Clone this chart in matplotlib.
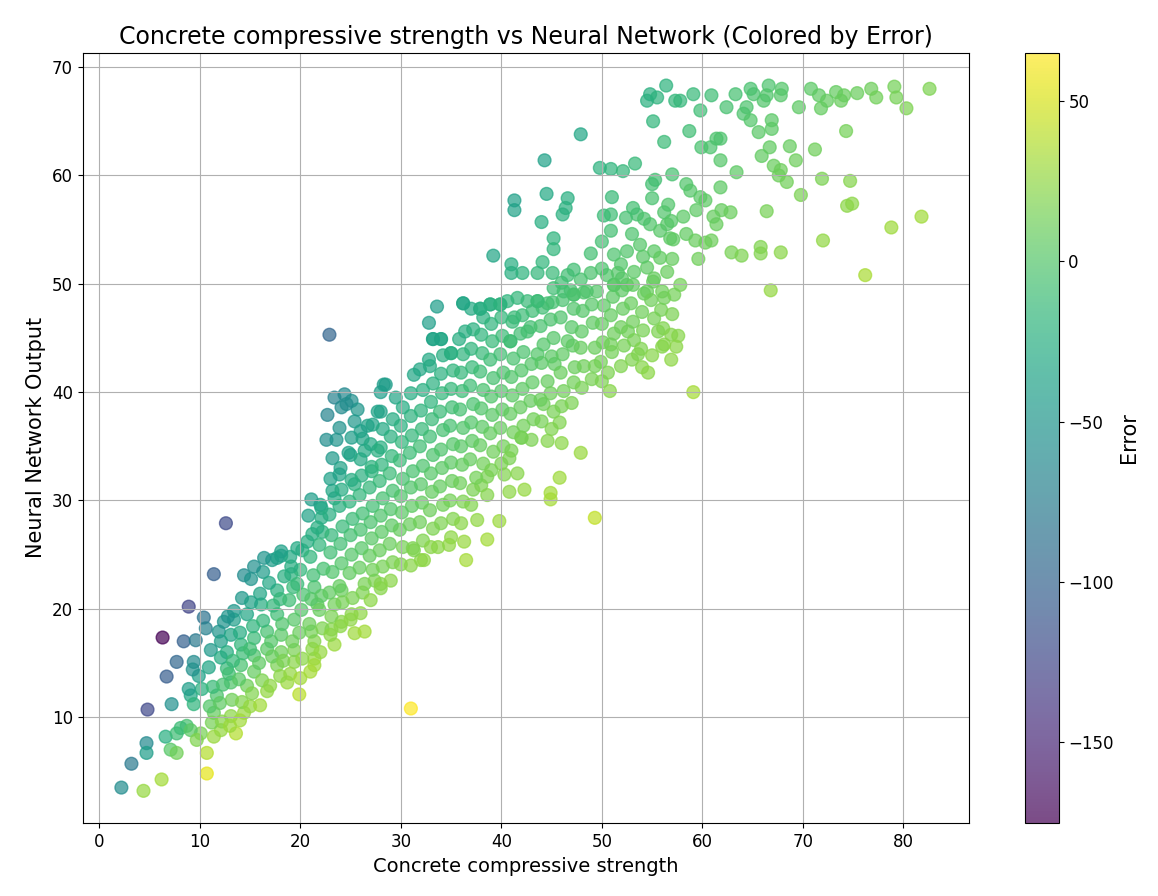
import matplotlib
matplotlib.use('Agg')

from matplotlib import pyplot as plt
import numpy as np

low_left = [(2.2, 3.5), (4.4, 3.2), (6.2, 4.25), (3.2, 5.7), (4.7, 7.6), (4.7, 6.7), (4.8, 10.7),
            (7.2, 11.2), (6.7, 13.75), (6.3, 17.35), (8.9, 20.2), (8.4, 17.0), (9.6, 17.1), (7.7, 15.1),
            (10.4, 19.2), (10.6, 18.2), (9.4, 15.1), (9.9, 13.8), (9.1, 12.0), (9.4, 11.2), (6.6, 8.2),
            (7.7, 8.5), (7.1, 7.0), (7.7, 6.7), (8.7, 9.2), (10.1, 8.5), (10.7, 6.7), (10.7, 4.8),
            (8.1, 9.0), (9.1, 8.8), (9.7, 7.9), (11.4, 23.2), (12.6, 27.9), (9.3, 14.4), (10.2, 12.6),
            (8.9, 12.6)]

band_10_28 = [(11.9, 17.9), (11.4, 8.2), (12.1, 8.8), (13.6, 8.5), (11.4, 10.4), (13.1, 10.1), (14.4, 10.4),
              (11.7, 12.0), (13.1, 13.2), (14.7, 12.9), (12.7, 14.5), (14.1, 14.8), (15.4, 14.2), (16.7, 12.4),
              (18.7, 13.2), (19.9, 12.1), (17.7, 14.8), (19.4, 15.1), (18.1, 16.0), (19.4, 16.2), (21.4, 15.4),
              (21.4, 14.8), (23.4, 16.7), (25.4, 17.75), (26.4, 17.9), (23.1, 18.1), (24.1, 18.8), (25.1, 19.5),
              (21.4, 17.0), (21.1, 17.9), (19.4, 19.0), (17.7, 19.5), (16.1, 20.4), (14.7, 19.5), (13.4, 19.8),
              (13.4, 19.0), (12.1, 17.0), (12.7, 16.0), (14.1, 16.7), (15.4, 17.3), (15.4, 15.7), (16.7, 17.9),
              (16.7, 16.3), (18.1, 17.6), (17.7, 21.7), (19.1, 23.2), (19.7, 22.3), (21.4, 22.0), (21.7, 20.4),
              (23.4, 20.4), (24.1, 21.7), (26.4, 22.3), (27.4, 22.6), (14.4, 23.1), (15.1, 22.75), (28.0, 22.3),
              (11.2, 9.5), (11.0, 11.0), (11.3, 12.8), (10.9, 14.6), (11.1, 16.2),
              (12.2, 9.6), (12.0, 11.3), (12.3, 13.0), (12.1, 15.5), (12.4, 18.8),
              (13.0, 9.2), (13.2, 11.6), (12.9, 14.0), (13.3, 15.2), (13.1, 17.6), (12.8, 19.3),
              (14.0, 9.7), (14.2, 11.4), (13.9, 13.5), (14.3, 15.9), (14.0, 17.8), (14.2, 21.0),
              (15.0, 11.0), (15.2, 12.2), (15.0, 16.3), (15.3, 18.4), (15.1, 20.6),
              (16.0, 11.1), (16.2, 13.4), (15.9, 15.0), (16.3, 18.9), (16.0, 21.4), (16.3, 23.4),
              (17.0, 12.9), (17.2, 15.6), (17.1, 17.0), (17.3, 20.3), (16.9, 22.4), (17.2, 24.5),
              (18.0, 13.8), (18.3, 15.2), (18.2, 18.6), (18.0, 20.9), (18.4, 23.0), (18.1, 24.9),
              (19.0, 14.0), (19.2, 17.0), (18.9, 20.8), (19.3, 22.0), (19.0, 24.8),
              (20.0, 13.6), (20.2, 15.4), (19.9, 17.8), (20.1, 19.9), (20.3, 21.3), (20.0, 23.6), (20.2, 25.4),
              (21.0, 14.2), (21.2, 16.3), (20.9, 18.6), (21.1, 20.9), (21.3, 23.1), (21.0, 24.8), (21.2, 26.9),
              (20.8, 28.6), (22.0, 16.0), (22.2, 18.2), (21.9, 19.9), (22.1, 21.2), (22.3, 23.7), (21.9, 25.9),
              (22.2, 27.1), (22.0, 29.6)]

teal_cluster = [(22.9, 45.3), (23.4, 39.5), (24.4, 39.8), (25.1, 39.2), (24.1, 38.6), (25.7, 38.4), (22.7, 37.9),
                (25.4, 37.3), (26.7, 36.9), (22.6, 35.6), (23.6, 35.6), (25.1, 35.8), (23.2, 33.9), (26.4, 34.6),
                (27.7, 34.6), (23.9, 32.4), (25.4, 31.5), (27.1, 32.7), (21.1, 30.1), (22.1, 29.3), (23.4, 30.2),
                (22.1, 28.4), (21.7, 27.5), (20.7, 26.2), (19.7, 25.6), (18.1, 25.3), (17.7, 24.7), (16.4, 24.7),
                (15.4, 23.9), (19.1, 23.9), (27.7, 38.2), (28.0, 40.0), (24.6, 38.9), (23.9, 36.7),
                (24.8, 34.4), (26.0, 36.4)]

band_23_38 = [(23.0, 17.6), (23.1, 19.3), (22.9, 21.5), (23.2, 23.4), (23.0, 25.2), (23.1, 26.8), (22.9, 28.7),
              (23.2, 30.9), (23.0, 32.0),
              (24.0, 18.4), (24.2, 20.6), (23.9, 22.1), (24.1, 24.2), (24.0, 26.0), (24.2, 27.6), (23.9, 29.5),
              (24.1, 31.0), (24.0, 33.0),
              (25.0, 19.0), (25.2, 21.0), (24.9, 23.3), (25.1, 25.0), (25.0, 26.8), (25.2, 28.3), (24.9, 29.9),
              (25.1, 31.9), (25.0, 34.2),
              (26.0, 19.6), (26.2, 21.5), (25.9, 23.8), (26.1, 25.6), (26.0, 27.3), (26.2, 28.8), (25.9, 30.5),
              (26.1, 32.3), (26.0, 33.8), (26.2, 35.7),
              (27.0, 20.8), (27.2, 23.6), (26.9, 24.9), (27.1, 26.5), (27.0, 28.0), (27.2, 29.5), (26.9, 31.2),
              (27.1, 33.1), (27.0, 35.2), (27.2, 37.0),
              (28.0, 21.9), (28.2, 23.9), (27.9, 25.4), (28.1, 27.1), (28.0, 28.6), (28.2, 30.2), (27.9, 31.8),
              (28.1, 33.3), (28.0, 34.9), (28.2, 36.6), (28.3, 40.7),
              (29.0, 22.6), (29.2, 24.3), (28.9, 26.0), (29.1, 27.7), (29.0, 29.2), (29.2, 30.9), (28.9, 32.5),
              (29.1, 34.1), (29.0, 35.9), (29.2, 37.5), (29.5, 39.5),
              (30.0, 24.1), (30.2, 25.7), (29.9, 27.3), (30.1, 28.9), (30.0, 30.4), (30.2, 32.0), (29.9, 33.7),
              (30.1, 35.4), (30.0, 36.9), (30.2, 38.6), (31.0, 39.9),
              (31.0, 24.0), (31.2, 25.6), (30.9, 27.8), (31.1, 29.5), (31.0, 31.2), (31.2, 32.7), (30.9, 34.4),
              (31.1, 36.0), (31.0, 37.8), (31.3, 41.6),
              (32.0, 24.5), (32.2, 26.3), (31.9, 28.0), (32.1, 29.8), (32.0, 31.5), (32.2, 33.2), (31.9, 35.0),
              (32.1, 36.6), (32.0, 38.3), (32.2, 40.2), (31.9, 42.1), (32.8, 43.0),
              (33.0, 25.7), (33.2, 27.4), (32.9, 29.1), (33.1, 30.8), (33.0, 32.5), (33.2, 34.2), (32.9, 35.9),
              (33.1, 37.5), (33.0, 39.1), (33.2, 40.8), (32.9, 42.4), (33.2, 44.9), (32.8, 46.4),
              (34.0, 27.9), (34.2, 29.6), (33.9, 31.3), (34.1, 33.0), (34.0, 34.7), (34.2, 36.5), (33.9, 38.2),
              (34.1, 39.9), (34.0, 41.7), (34.2, 43.4), (34.0, 44.9), (33.6, 47.9),
              (35.0, 26.6), (35.2, 28.3), (34.9, 30.0), (35.1, 31.8), (35.0, 33.5), (35.2, 35.2), (34.9, 36.9),
              (35.1, 38.6), (35.0, 40.3), (35.2, 42.0), (35.0, 43.6), (35.8, 44.9),
              (36.0, 27.9), (36.2, 29.9), (35.9, 31.6), (36.1, 33.3), (36.0, 35.0), (36.2, 36.7), (35.9, 38.4),
              (36.1, 40.1), (36.0, 41.8), (36.2, 43.5), (36.4, 45.6), (36.2, 48.2),
              (37.0, 29.6), (37.2, 31.0), (36.9, 33.8), (37.1, 35.5), (37.0, 37.2), (37.2, 38.9), (36.9, 40.6),
              (37.1, 42.3), (37.0, 44.0), (37.2, 45.8), (37.0, 47.7),
              (38.0, 31.4), (38.2, 33.4), (37.9, 35.1), (38.1, 36.8), (38.0, 38.5), (38.2, 40.2), (37.9, 41.9),
              (38.1, 43.6), (38.0, 45.3), (38.2, 46.9), (37.9, 47.7)]

band_39_57 = [(39.0, 32.8), (39.2, 34.5), (38.9, 36.2), (39.1, 37.9), (39.0, 39.6), (39.2, 41.3), (38.9, 43.0),
              (39.1, 44.7), (39.0, 46.3), (38.9, 48.1),
              (40.0, 33.4), (40.2, 35.0), (39.9, 36.7), (40.1, 38.4), (40.0, 40.1), (40.2, 41.8), (39.9, 43.5),
              (40.1, 45.2), (40.0, 46.9), (39.9, 48.1),
              (41.0, 34.6), (41.2, 36.3), (40.9, 38.0), (41.1, 39.7), (41.0, 41.4), (41.2, 43.1), (40.9, 44.7),
              (41.1, 46.5), (40.6, 48.4), (41.6, 48.7),
              (42.0, 35.8), (42.2, 36.9), (41.9, 38.6), (42.1, 40.3), (42.0, 42.0), (42.2, 43.7), (41.9, 45.4),
              (42.1, 47.1), (42.6, 48.4),
              (43.0, 35.6), (43.2, 37.5), (42.9, 39.2), (43.1, 40.9), (43.0, 42.6), (43.6, 43.5), (42.9, 46.0),
              (43.1, 47.5), (43.6, 48.4),
              (44.0, 37.3), (44.2, 38.9), (43.9, 39.3), (44.6, 41.0), (44.0, 42.7), (44.2, 44.4), (43.9, 46.1),
              (44.1, 47.8), (44.6, 48.2),
              (45.0, 36.6), (45.2, 38.2), (44.9, 39.9), (45.3, 42.6), (45.0, 43.3), (45.2, 45.0), (44.9, 46.7),
              (45.1, 48.3), (45.2, 49.6),
              (46.0, 38.7), (46.2, 40.1), (45.9, 41.8), (46.1, 43.5), (46.6, 44.7), (45.9, 46.9), (46.1, 48.5),
              (46.0, 50.1),
              (47.0, 39.0), (47.2, 40.9), (47.3, 42.3), (47.1, 44.3), (47.0, 46.0), (47.2, 47.7), (46.9, 49.4),
              (47.2, 49.0),
              (48.0, 40.4), (48.2, 42.4), (47.9, 44.1), (48.0, 45.6), (48.1, 47.5), (48.2, 49.2), (47.9, 50.4),
              (49.0, 41.2), (49.3, 42.4), (49.3, 44.1), (49.1, 46.4), (49.0, 48.1), (49.5, 49.3),
              (50.0, 41.0), (50.6, 41.8), (49.9, 42.8), (50.1, 44.6), (50.0, 46.3), (50.2, 48.0), (50.8, 40.1),
              (50.9, 44.4), (51.0, 43.7), (51.2, 45.4), (50.9, 47.1), (51.1, 48.8), (51.2, 49.9),
              (51.9, 42.4), (52.2, 44.3), (51.9, 46.0), (52.1, 47.7), (52.0, 49.4), (52.6, 45.6), (52.5, 49.9),
              (53.0, 43.0), (53.2, 44.8), (53.6, 43.5), (53.1, 46.5), (52.9, 48.2), (53.1, 49.9),
              (54.0, 42.3), (54.6, 41.8), (53.9, 44.0), (54.1, 45.7), (54.0, 47.4), (54.2, 49.1), (54.5, 49.3),
              (55.0, 43.4), (55.6, 45.6), (55.2, 46.8), (54.9, 48.5), (55.1, 50.2),
              (56.0, 44.2), (56.2, 44.4), (56.1, 45.9), (55.9, 47.6), (56.2, 48.7), (56.0, 49.3),
              (56.9, 45.3), (57.6, 45.2), (57.4, 44.2), (56.9, 43.0), (57.0, 47.2), (57.2, 49.0), (57.8, 49.9)]

scattered_mid = [(47.9, 34.4), (45.8, 32.1), (44.9, 30.7), (44.9, 30.1), (42.3, 31.0), (40.8, 30.8), (41.6, 32.5),
                 (40.3, 32.4), (38.6, 30.5), (38.6, 32.2), (37.5, 32.1), (49.3, 28.4), (39.8, 28.1), (37.6, 28.2),
                 (38.6, 26.4), (36.3, 26.2), (36.5, 24.5), (34.8, 25.9), (33.7, 25.7), (32.3, 24.5), (31.3, 25.4),
                 (46.0, 35.3), (45.8, 37.2), (44.6, 35.5), (42.0, 35.8), (40.8, 33.9), (59.1, 40.0), (31.0, 10.8),
                 (28.5, 40.7), (28.0, 38.2), (34.0, 44.9), (35.0, 43.6), (33.2, 44.9), (42.6, 45.6), (41.3, 46.9),
                 (40.9, 44.7), (36.2, 48.2)]

upper_mid = [(54.8, 67.5), (55.5, 67.2), (54.5, 66.9), (56.4, 68.3), (57.3, 66.9), (55.1, 65.0), (56.2, 63.1),
             (47.9, 63.8), (44.3, 61.4), (49.8, 60.7), (50.9, 60.6), (52.1, 60.4), (53.3, 61.1), (55.3, 59.6),
             (55.0, 59.2), (57.0, 60.1), (41.3, 57.7), (41.3, 56.8), (44.5, 58.3), (46.6, 57.9), (46.4, 57.0),
             (46.1, 56.4), (44.0, 55.7), (51.0, 58.0), (50.2, 56.3), (50.9, 56.4), (53.5, 56.4), (56.6, 57.3),
             (45.2, 54.2), (45.2, 53.2), (39.2, 52.6), (41.0, 51.8), (41.0, 51.0), (42.1, 51.0), (43.6, 51.0),
             (44.1, 52.0), (45.1, 51.0), (46.6, 50.8), (47.2, 51.3), (48.9, 52.8), (48.9, 51.0), (50.0, 53.9),
             (50.9, 54.9), (51.2, 52.7), (54.8, 55.5), (55.8, 54.9), (56.5, 55.5), (56.8, 54.2), (55.2, 53.0),
             (55.8, 52.4), (56.5, 51.1), (53.8, 53.6), (52.5, 53.0), (51.9, 51.8), (53.2, 51.1), (54.5, 51.5),
             (55.2, 50.5), (51.2, 49.9), (46.2, 49.3), (47.2, 49.0), (48.5, 49.3), (37.9, 47.7), (38.9, 48.1),
             (39.9, 48.1), (43.6, 48.4), (50.5, 50.8), (52.0, 50.5), (53.0, 54.6), (54.1, 52.5), (51.6, 51.0),
             (50.0, 51.4), (52.4, 56.1), (53.1, 57.0), (54.2, 56.0), (55.0, 57.9), (56.2, 56.6), (57.0, 52.3),
             (57.1, 54.1), (56.9, 55.8)]

upper_right = [(59.1, 67.5), (60.9, 67.4), (57.8, 66.9), (59.8, 66.0), (62.4, 66.3), (63.3, 67.5), (64.8, 68.0),
               (65.1, 67.5), (64.4, 66.3), (64.1, 65.7), (64.8, 65.1), (66.6, 68.3), (66.1, 66.9), (66.4, 67.4),
               (67.9, 68.0), (67.8, 67.4), (69.6, 66.3), (70.8, 68.0), (71.6, 67.4), (71.8, 66.2), (72.4, 66.9),
               (73.3, 67.7), (73.8, 66.9), (74.1, 67.4), (75.4, 67.6), (76.8, 68.0), (77.3, 67.2), (79.1, 68.2),
               (79.3, 67.2), (80.3, 66.2), (82.6, 68.0), (58.7, 64.1), (74.3, 64.1), (61.4, 63.4), (61.8, 63.4),
               (59.9, 62.6), (60.8, 62.6), (61.8, 61.4), (63.4, 60.3), (65.6, 64.0), (66.9, 65.1), (66.9, 64.3),
               (66.7, 62.6), (65.9, 61.8), (68.7, 62.7), (69.3, 61.4), (67.1, 60.9), (67.8, 60.5), (67.6, 60.0),
               (68.4, 59.4), (69.8, 58.2), (71.2, 62.4), (71.9, 59.7), (74.7, 59.5), (74.4, 57.2), (74.9, 57.4),
               (72.0, 54.0), (78.8, 55.2), (81.8, 56.2), (76.2, 50.8), (66.4, 56.7), (65.8, 53.4), (65.8, 52.8),
               (67.8, 52.9), (62.9, 52.9), (63.9, 52.6), (66.8, 49.4), (59.6, 52.3), (58.4, 54.6), (59.3, 54.0),
               (60.3, 53.8), (60.9, 54.0), (61.4, 55.5), (61.9, 56.8), (62.8, 56.6), (61.1, 56.2), (58.1, 56.2),
               (58.4, 59.2), (58.8, 58.6), (59.8, 58.0), (60.3, 57.7), (59.4, 56.8), (61.8, 58.9)]

points = low_left + band_10_28 + teal_cluster + band_23_38 + band_39_57 + scattered_mid + upper_mid + upper_right
strength = np.array([p[0] for p in points])
nn_output = np.array([p[1] for p in points])
error = (strength - nn_output) / strength * 100

fig = plt.figure(figsize=(11.58, 8.96), dpi=100)
ax = fig.add_axes([0.0714, 0.0811, 0.7656, 0.8603])
cax = fig.add_axes([0.8854, 0.0811, 0.0288, 0.8603])

sc = ax.scatter(strength, nn_output, c=error, cmap='viridis', alpha=0.7, s=85)
cb = fig.colorbar(sc, cax=cax)
cb.set_label('Error', fontsize=15)
cb.ax.tick_params(labelsize=12)

ax.set_title('Concrete compressive strength vs Neural Network (Colored by Error)', fontsize=17)
ax.set_xlabel('Concrete compressive strength', fontsize=14)
ax.set_ylabel('Neural Network Output', fontsize=15)
ax.tick_params(labelsize=12)
ax.set_xlim(-1.65, 86.55)
ax.set_ylim(0.2, 71.35)
ax.grid(True)

plt.savefig('out.png')
plt.close()
